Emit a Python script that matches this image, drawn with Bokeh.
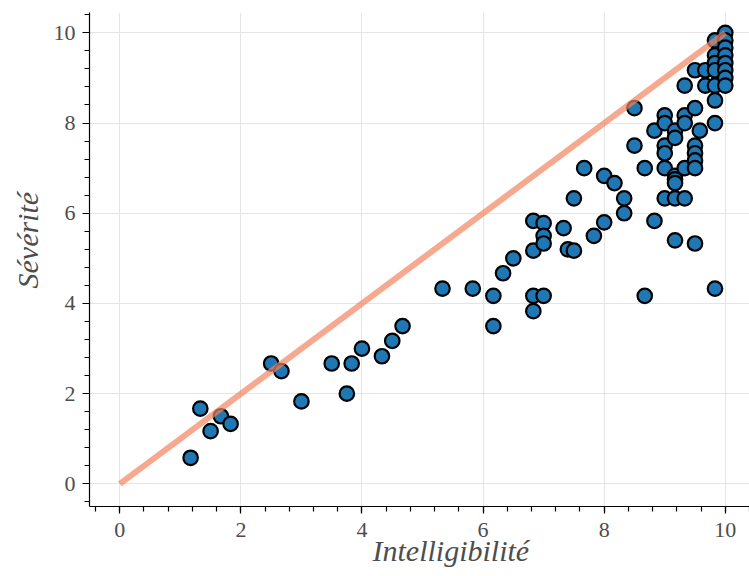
from bokeh.plotting import figure
from bokeh.models import Range1d, ColumnDataSource, Title
from bokeh.embed import file_html
from bokeh.resources import INLINE

# Data
intelligibilite = [
    1.17, 1.33, 1.5, 1.67, 1.83,
    2.5, 2.67, 3.0, 3.5, 3.75, 3.83, 4.0, 4.33, 4.5, 4.67,
    5.33, 5.83, 6.17, 6.17, 6.33, 6.5,
    6.83, 6.83, 6.83, 6.83, 7.0, 7.0, 7.0, 7.0,
    7.33, 7.4, 7.5, 7.5, 7.67, 7.83,
    8.0, 8.0, 8.17, 8.33, 8.33,
    8.5, 8.5, 8.67, 8.67, 8.83, 8.83,
    9.0, 9.0, 9.0, 9.0, 9.0, 9.0,
    9.17, 9.17, 9.17, 9.17, 9.17, 9.17, 9.17,
    9.33, 9.33, 9.33, 9.33, 9.33,
    9.5, 9.5, 9.5, 9.5, 9.5, 9.5, 9.5,
    9.58,
    9.67, 9.67,
    9.83, 9.83, 9.83, 9.83, 9.83, 9.83, 9.83, 9.83,
    10.0, 10.0, 10.0, 10.0, 10.0, 10.0, 10.0, 10.0,
]
severite = [
    0.58, 1.67, 1.17, 1.5, 1.33,
    2.67, 2.5, 1.83, 2.67, 2.0, 2.67, 3.0, 2.83, 3.17, 3.5,
    4.33, 4.33, 4.17, 3.5, 4.67, 5.0,
    5.83, 5.17, 4.17, 3.83, 5.78, 5.5, 5.33, 4.17,
    5.67, 5.2, 5.17, 6.33, 7.0, 5.5,
    6.83, 5.8, 6.67, 6.33, 6.0,
    8.33, 7.5, 7.0, 4.17, 7.83, 5.83,
    8.17, 8.0, 7.5, 7.33, 7.0, 6.33,
    7.83, 7.67, 6.83, 6.75, 6.67, 6.33, 5.4,
    8.83, 8.17, 8.0, 7.0, 6.33,
    9.17, 8.33, 7.5, 7.33, 7.17, 7.0, 5.33,
    7.83,
    9.17, 8.83,
    9.83, 9.5, 9.33, 9.17, 8.83, 8.5, 8.0, 4.33,
    10.0, 9.83, 9.67, 9.5, 9.33, 9.17, 9.0, 8.83,
]
diag_x = [0, 10]
diag_y = [0, 10]
x_title = "Intelligibilité"
y_title = "Sévérité"

src = ColumnDataSource(dict(x=intelligibilite, y=severite))

p = figure(width=749, height=576, output_backend="svg", toolbar_location=None,
           x_range=Range1d(-0.5, 10.4), y_range=Range1d(-0.5, 10.45),
           min_border_left=89, min_border_right=0, min_border_top=12,
           min_border_bottom=70)
p.outline_line_color = None
p.background_fill_color = "white"
p.border_fill_color = "white"

p.scatter("x", "y", source=src, size=14.5, fill_color="#1f77b4",
          line_color="black", line_width=2.2)
p.line(diag_x, diag_y, line_color="#f2845f", line_alpha=0.7, line_width=6)

for ax in (p.xaxis[0], p.yaxis[0]):
    ax.axis_line_color = "black"
    ax.axis_line_width = 1.2
    ax.major_tick_line_color = "black"
    ax.minor_tick_line_color = "black"
    ax.major_tick_line_width = 1.2
    ax.minor_tick_line_width = 1.2
    ax.major_tick_out = 7
    ax.major_tick_in = 0
    ax.minor_tick_out = 5
    ax.minor_tick_in = 0
    ax.major_label_text_font = "Liberation Serif"
    ax.major_label_text_font_size = "22px"
    ax.major_label_text_color = "#4d4d4d"
    ax.ticker.desired_num_ticks = 6
    ax.ticker.num_minor_ticks = 5

p.xaxis.major_label_standoff = 9
p.yaxis.major_label_standoff = 7

p.grid.grid_line_color = "#e5e5e5"

# axis titles as side titles (offset to match the reference placement)
p.add_layout(Title(text=x_title, align="left", offset=283, standoff=-16,
                   text_font="Liberation Serif", text_font_style="italic",
                   text_font_size="30px", text_color="#4d4d4d"), "below")
p.add_layout(Title(text=y_title, align="left", offset=218, standoff=10,
                   vertical_align="top",
                   text_font="Liberation Serif", text_font_style="italic",
                   text_font_size="30px", text_color="#4d4d4d"), "left")

open("out.html", "w").write(file_html(p, INLINE))
